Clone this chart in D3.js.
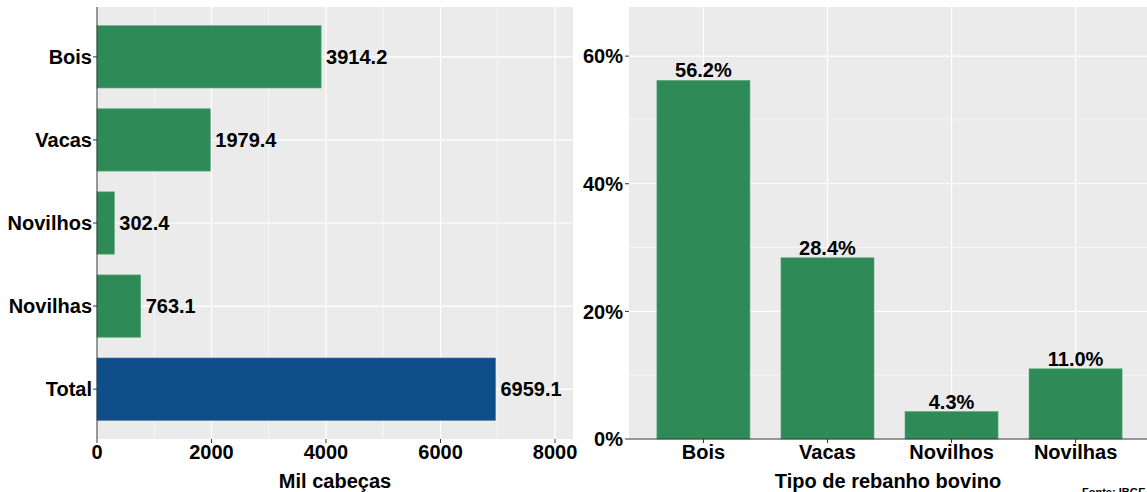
<!DOCTYPE html>
<html>
<head>
<meta charset="utf-8">
<script src="https://cdn.jsdelivr.net/npm/d3@7"></script>
<style>
  body { margin: 0; background: #fff; }
  text { font-family: "Liberation Sans", Arial, sans-serif; font-weight: bold; fill: #000; }
  .grid { stroke: #fff; }
</style>
</head>
<body>
<script>
// data
const categories = ["Bois", "Vacas", "Novilhos", "Novilhas"]
const heads = [3914.2, 1979.4, 302.4, 763.1]   // mil cabeças
const totalLabel = "Total"
const totalHeads = 6959.1
const shares = [0.562, 0.284, 0.043, 0.110]
const headTicks = [0, 2000, 4000, 6000, 8000]
const shareTicks = [0, 0.2, 0.4, 0.6]

const W = 1147, H = 492
const green = "#2E8B57", blue = "#104E8B", panelBg = "#EBEBEB"
const fs = 20

const svg = d3.select("body").append("svg")
  .attr("width", W).attr("height", H)

// ---------- left panel: horizontal bars ----------
const L = {x0: 97, x1: 573, y0: 7, y1: 439}
const leftCats = categories.concat([totalLabel])
const leftVals = heads.concat([totalHeads])

const x = d3.scaleLinear().domain([0, 8314]).range([L.x0, L.x1])
const yb = d3.scaleBand().domain(leftCats).range([L.y0, L.y1])
  .paddingInner(0.25).paddingOuter(0.225)

const gl = svg.append("g")
gl.append("rect").attr("x", L.x0).attr("y", L.y0)
  .attr("width", L.x1 - L.x0).attr("height", L.y1 - L.y0).attr("fill", panelBg)

// minor grid
d3.range(1000, 8314, 2000).forEach(v => {
  gl.append("line").attr("class", "grid").attr("stroke-width", 0.6)
    .attr("x1", x(v)).attr("x2", x(v)).attr("y1", L.y0).attr("y2", L.y1)
})
headTicks.forEach(v => {
  gl.append("line").attr("class", "grid").attr("stroke-width", 1.2)
    .attr("x1", x(v)).attr("x2", x(v)).attr("y1", L.y0).attr("y2", L.y1)
})
leftCats.forEach(c => {
  let yy = yb(c) + yb.bandwidth() / 2
  gl.append("line").attr("class", "grid").attr("stroke-width", 1.2)
    .attr("x1", L.x0).attr("x2", L.x1).attr("y1", yy).attr("y2", yy)
})

gl.selectAll(".hbar").data(leftCats).enter().append("rect")
  .attr("class", "hbar")
  .attr("x", x(0))
  .attr("y", d => yb(d))
  .attr("width", (d, i) => x(leftVals[i]) - x(0))
  .attr("height", yb.bandwidth())
  .attr("fill", d => d == totalLabel ? blue : green)
  .attr("stroke", d => d == totalLabel ? "#3f6fa0" : "#5aa67c")
  .attr("stroke-width", 0.6)

gl.selectAll(".hval").data(leftCats).enter().append("text")
  .attr("x", (d, i) => x(leftVals[i]) + 5)
  .attr("y", d => yb(d) + yb.bandwidth() / 2)
  .attr("dy", "0.36em")
  .attr("font-size", fs)
  .text((d, i) => leftVals[i].toFixed(1))

// left axis line + ticks
gl.append("line").attr("x1", L.x0).attr("x2", L.x0).attr("y1", L.y0).attr("y2", L.y1)
  .attr("stroke", "#333").attr("stroke-width", 1)
leftCats.forEach(c => {
  let yy = yb(c) + yb.bandwidth() / 2
  gl.append("line").attr("x1", L.x0 - 4).attr("x2", L.x0).attr("y1", yy).attr("y2", yy)
    .attr("stroke", "#333")
  gl.append("text").attr("x", L.x0 - 5).attr("y", yy).attr("dy", "0.36em")
    .attr("text-anchor", "end").attr("font-size", fs).text(c)
})
headTicks.forEach(v => {
  gl.append("line").attr("x1", x(v)).attr("x2", x(v)).attr("y1", L.y1).attr("y2", L.y1 + 4)
    .attr("stroke", "#333")
  gl.append("text").attr("x", x(v)).attr("y", L.y1 + 20)
    .attr("text-anchor", "middle").attr("font-size", fs).text(v)
})
gl.append("text").attr("x", (L.x0 + L.x1) / 2).attr("y", 488)
  .attr("text-anchor", "middle").attr("font-size", fs).text("Mil cabeças")

// ---------- right panel: vertical bars ----------
const R = {x0: 629, x1: 1150, y0: 7, y1: 439}
const xb = d3.scaleBand().domain(categories).range([R.x0, R.x1])
  .paddingInner(0.25).paddingOuter(0.225)
const y = d3.scaleLinear().domain([0, 0.677]).range([R.y1, R.y0])

const gr = svg.append("g")
gr.append("rect").attr("x", R.x0).attr("y", R.y0)
  .attr("width", R.x1 - R.x0).attr("height", R.y1 - R.y0).attr("fill", panelBg)

d3.range(0.1, 0.677, 0.2).forEach(v => {
  gr.append("line").attr("class", "grid").attr("stroke-width", 0.6)
    .attr("x1", R.x0).attr("x2", R.x1).attr("y1", y(v)).attr("y2", y(v))
})
shareTicks.forEach(v => {
  gr.append("line").attr("class", "grid").attr("stroke-width", 1.2)
    .attr("x1", R.x0).attr("x2", R.x1).attr("y1", y(v)).attr("y2", y(v))
})
categories.forEach(c => {
  let xx = xb(c) + xb.bandwidth() / 2
  gr.append("line").attr("class", "grid").attr("stroke-width", 1.2)
    .attr("x1", xx).attr("x2", xx).attr("y1", R.y0).attr("y2", R.y1)
})

gr.selectAll(".vbar").data(categories).enter().append("rect")
  .attr("x", d => xb(d))
  .attr("y", (d, i) => y(shares[i]))
  .attr("width", xb.bandwidth())
  .attr("height", (d, i) => y(0) - y(shares[i]))
  .attr("fill", green)
  .attr("stroke", "#5aa67c").attr("stroke-width", 0.6)

gr.selectAll(".vval").data(categories).enter().append("text")
  .attr("x", d => xb(d) + xb.bandwidth() / 2)
  .attr("y", (d, i) => y(shares[i]) - 3)
  .attr("text-anchor", "middle")
  .attr("font-size", fs)
  .text((d, i) => (shares[i] * 100).toFixed(1) + "%")

// bottom axis line + ticks
gr.append("line").attr("x1", R.x0).attr("x2", R.x1).attr("y1", R.y1).attr("y2", R.y1)
  .attr("stroke", "#333").attr("stroke-width", 1)
categories.forEach(c => {
  let xx = xb(c) + xb.bandwidth() / 2
  gr.append("line").attr("x1", xx).attr("x2", xx).attr("y1", R.y1).attr("y2", R.y1 + 4)
    .attr("stroke", "#333")
  gr.append("text").attr("x", xx).attr("y", R.y1 + 20)
    .attr("text-anchor", "middle").attr("font-size", fs).text(c)
})
shareTicks.forEach(v => {
  gr.append("line").attr("x1", R.x0 - 4).attr("x2", R.x0).attr("y1", y(v)).attr("y2", y(v))
    .attr("stroke", "#333")
  gr.append("text").attr("x", R.x0 - 6).attr("y", y(v)).attr("dy", "0.36em")
    .attr("text-anchor", "end").attr("font-size", fs).text(d3.format(".0%")(v))
})
gr.append("text").attr("x", (R.x0 + 1147) / 2).attr("y", 488)
  .attr("text-anchor", "middle").attr("font-size", fs).text("Tipo de rebanho bovino")

svg.append("text").attr("x", 1082).attr("y", 496)
  .attr("font-size", 11).text("Fonte: IBGE")
</script>
</body>
</html>
